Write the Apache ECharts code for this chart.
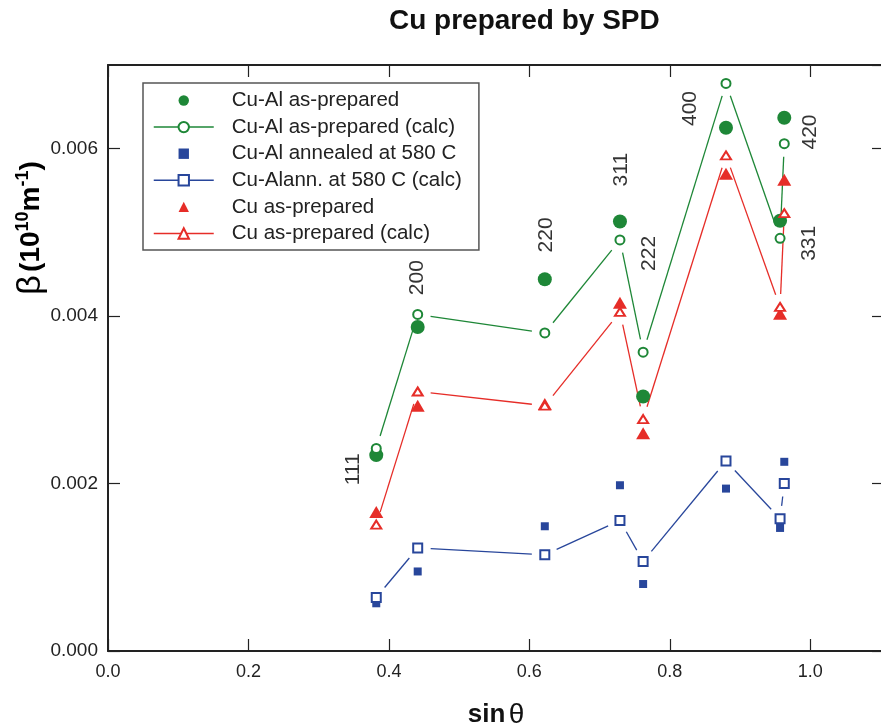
<!DOCTYPE html>
<html>
<head>
<meta charset="utf-8">
<script src="https://cdn.jsdelivr.net/npm/echarts@6/dist/echarts.min.js"></script>
<style>
  html, body { margin: 0; padding: 0; background: #fff; }
  #chart { width: 881px; height: 727px; }
</style>
</head>
<body>
<div id="chart"></div>
<script>
// reflections, in order of sin(theta)
const hkl = ["111", "200", "220", "311", "222", "400", "331", "420"];
const sinTheta = [0.382, 0.441, 0.622, 0.729, 0.762, 0.880, 0.957, 0.963];

// beta values, 10^10 m^-1
const cuAlPrep = [0.00234, 0.00387, 0.00444, 0.00513, 0.00304, 0.00625, 0.00514, 0.00637];
const cuAlPrepCalc = [0.00242, 0.00402, 0.00380, 0.00491, 0.00357, 0.00678, 0.00493, 0.00606];
const cuAlAnn = [0.00057, 0.00095, 0.00149, 0.00198, 0.00080, 0.00194, 0.00147, 0.00226];
const cuAlAnnCalc = [0.00064, 0.00123, 0.00115, 0.00156, 0.00107, 0.00227, 0.00158, 0.00200];
const cuPrep = [0.00166, 0.00293, 0.00295, 0.00416, 0.00260, 0.00570, 0.00403, 0.00563];
const cuPrepCalc = [0.00151, 0.00310, 0.00293, 0.00405, 0.00277, 0.00592, 0.00411, 0.00523];

// where the hkl labels sit
const labelX = [0.349, 0.441, 0.6235, 0.731, 0.771, 0.8285, 0.9986, 1.0];
const labelY = [0.00217, 0.00446, 0.00497, 0.00575, 0.00475, 0.00648, 0.00487, 0.00620];

const FONT = "Liberation Sans";
const GREEN = "#1e8737";
const BLUE = "#28469b";
const RED = "#e62d28";
const GAP = 13;

const pts = (ys) => sinTheta.map((x, i) => [x, ys[i]]);
const segs = (ys) => ys.slice(1).map((y, i) => [sinTheta[i], ys[i], sinTheta[i + 1], y]);

// calc lines stop short of the markers, like the original plot
const segRenderer = (color) => (params, api) => {
  const a = api.coord([api.value(0), api.value(1)]);
  const b = api.coord([api.value(2), api.value(3)]);
  const dx = b[0] - a[0];
  const dy = b[1] - a[1];
  const d = Math.hypot(dx, dy);
  if (d <= 2 * GAP) return;
  const ux = dx / d;
  const uy = dy / d;
  return {
    type: "line",
    shape: { x1: a[0] + ux * GAP, y1: a[1] + uy * GAP, x2: b[0] - ux * GAP, y2: b[1] - uy * GAP },
    style: { stroke: color, lineWidth: 1.3 },
  };
};

const measured = (name, ys, symbol, size, color) => ({
  name,
  type: "line",
  data: pts(ys),
  symbol,
  symbolSize: size,
  showAllSymbol: true,
  lineStyle: { opacity: 0, color },
  itemStyle: { color },
  z: 3,
});

const calc = (name, ys, symbol, size, color) => ({
  name,
  type: "line",
  data: pts(ys),
  symbol,
  symbolSize: size,
  showAllSymbol: true,
  lineStyle: { opacity: 0, color, width: 1.3 },
  itemStyle: { color, borderWidth: 1.3 },
  z: 4,
});

const segments = (name, ys, color) => ({
  name,
  type: "custom",
  data: segs(ys),
  encode: { x: [0, 2], y: [1, 3] },
  renderItem: segRenderer(color),
  silent: true,
  z: 2,
});

const chart = echarts.init(document.getElementById("chart"), null, { renderer: "canvas" });

const axisCommon = {
  axisLine: { show: true, onZero: false, lineStyle: { color: "#222", width: 2 } },
  axisTick: { show: true, inside: true, length: 12, lineStyle: { color: "#222", width: 1.2 } },
  splitLine: { show: false },
};

const option = {
  animation: false,
  backgroundColor: "#fff",
  title: {
    text: "Cu prepared by SPD",
    left: 389,
    top: 7,
    padding: 0,
    textStyle: { fontSize: 28, fontWeight: "bold", fontFamily: FONT, color: "#111" },
  },
  grid: { left: 108, right: -3, top: 65, bottom: 76, outerBoundsMode: "none" },
  legend: {
    orient: "vertical",
    left: 143,
    top: 83,
    padding: [7, 17, 6, 10],
    itemWidth: 60,
    itemHeight: 13,
    itemGap: 5.6,
    selectedMode: false,
    borderColor: "#555",
    borderWidth: 1.5,
    textStyle: { fontSize: 20.5, fontFamily: FONT, color: "#222", lineHeight: 21, padding: [0, 0, 0, 13] },
    data: [
      { name: "Cu-Al as-prepared", lineStyle: { opacity: 0, width: 0 } },
      { name: "Cu-Al as-prepared (calc)", lineStyle: { opacity: 1, width: 1.5 } },
      { name: "Cu-Al annealed at 580 C", lineStyle: { opacity: 0, width: 0 } },
      { name: "Cu-Alann. at 580 C (calc)", lineStyle: { opacity: 1, width: 1.5 } },
      { name: "Cu as-prepared", lineStyle: { opacity: 0, width: 0 } },
      { name: "Cu as-prepared (calc)", lineStyle: { opacity: 1, width: 1.5 } },
    ],
  },
  xAxis: [
    {
      ...axisCommon,
      type: "value",
      position: "bottom",
      min: 0,
      max: 1.105,
      interval: 0.2,
      axisLabel: {
        showMaxLabel: false,
        margin: 12,
        fontSize: 18,
        fontFamily: FONT,
        color: "#222",
        formatter: (v) => v.toFixed(1),
      },
      name: "{a|sin} {b|θ}",
      nameLocation: "middle",
      nameGap: 50,
      nameTextStyle: {
        rich: {
          a: { fontSize: 26, fontWeight: "bold", fontFamily: FONT, color: "#111" },
          b: { fontSize: 28, fontFamily: FONT, color: "#111" },
        },
      },
    },
    {
      ...axisCommon,
      type: "value",
      position: "top",
      min: 0,
      max: 1.105,
      interval: 0.2,
      axisLabel: { show: false },
    },
  ],
  yAxis: [
    {
      ...axisCommon,
      type: "value",
      position: "left",
      min: 0,
      max: 0.007,
      interval: 0.002,
      axisLabel: {
        showMaxLabel: false,
        margin: 10,
        fontSize: 19,
        fontFamily: FONT,
        color: "#222",
        formatter: (v) => v.toFixed(3),
      },
    },
    {
      ...axisCommon,
      type: "value",
      position: "right",
      min: 0,
      max: 0.007,
      interval: 0.002,
      axisLabel: { show: false },
    },
  ],
  graphic: [
    {
      type: "text",
      x: 31,
      y: 228,
      rotation: Math.PI / 2,
      style: {
        text: "{g|β} {t|(10}{s|10}{t|m}{s|-1}{t|)}",
        align: "center",
        verticalAlign: "middle",
        rich: {
          g: { fontSize: 34, fontFamily: FONT, color: "#111", lineHeight: 34 },
          t: { fontSize: 28, fontWeight: "bold", fontFamily: FONT, color: "#111", lineHeight: 34 },
          s: { fontSize: 18, fontWeight: "bold", fontFamily: FONT, color: "#111", lineHeight: 34, verticalAlign: "top", padding: [0, 0, 12, 0] },
        },
      },
    },
  ],
  series: [
    segments("seg-cual", cuAlPrepCalc, GREEN),
    segments("seg-ann", cuAlAnnCalc, BLUE),
    segments("seg-cu", cuPrepCalc, RED),
    measured("Cu-Al as-prepared", cuAlPrep, "circle", 14, GREEN),
    measured("Cu-Al annealed at 580 C", cuAlAnn, "rect", 8, BLUE),
    measured("Cu as-prepared", cuPrep, "triangle", [14, 12], RED),
    calc("Cu-Al as-prepared (calc)", cuAlPrepCalc, "emptyCircle", 9, GREEN),
    calc("Cu-Alann. at 580 C (calc)", cuAlAnnCalc, "emptyRect", 9, BLUE),
    calc("Cu as-prepared (calc)", cuPrepCalc, "emptyTriangle", [10, 8], RED),
    {
      name: "hkl",
      type: "scatter",
      data: hkl.map((h, i) => ({ name: h, value: [labelX[i], labelY[i]] })),
      symbolSize: 1,
      itemStyle: { color: "transparent" },
      label: {
        show: true,
        position: "inside",
        rotate: 90,
        formatter: "{b}",
        fontSize: 21,
        fontFamily: FONT,
        color: "#000",
      },
      silent: true,
      z: 5,
    },
  ],
};

chart.setOption(option);
</script>
</body>
</html>
